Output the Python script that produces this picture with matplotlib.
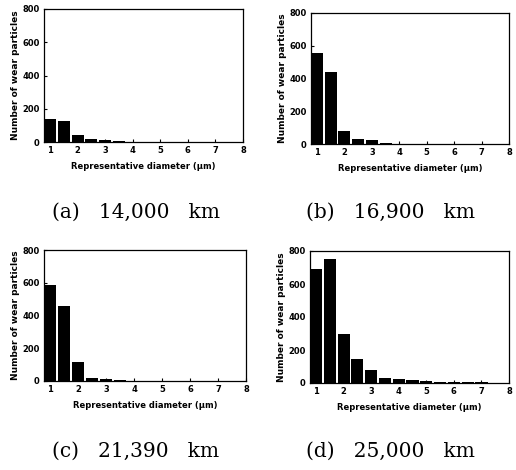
import matplotlib.pyplot as plt

# bar centres (representative diameter, um)
diam = [1.0, 1.5, 2.0, 2.5, 3.0, 3.5, 4.0, 4.5, 5.0, 5.5, 6.0, 6.5, 7.0, 7.5]

count_a = [141, 125, 40, 16, 12, 4, 3, 2, 2, 1, 1, 1, 1, 1]
count_b = [558, 440, 79, 32, 22, 4, 3, 2, 2, 1, 1, 1, 1, 1]
count_c = [588, 457, 114, 20, 14, 4, 3, 2, 2, 2, 2, 1, 1, 1]
count_d = [690, 751, 298, 148, 77, 32, 22, 18, 14, 8, 8, 6, 4, 3]

captions = ["(a)   14,000   km", "(b)   16,900   km", "(c)   21,390   km", "(d)   25,000   km"]

# axes boxes in pixels: left, top, right, bottom
boxes = [(44, 9, 243, 142), (311, 13, 509, 144), (44, 250, 246, 381), (310, 251, 509, 383)]
caption_pos = [(136, 212), (391, 212), (136, 451), (390, 451)]

W, H = 516, 470


def main():
    fig = plt.figure(figsize=(W / 100, H / 100), dpi=100)
    for counts, box, cap, cpos in zip([count_a, count_b, count_c, count_d], boxes, captions, caption_pos):
        l, t, r, b = box
        ax = fig.add_axes([l / W, 1 - b / H, (r - l) / W, (b - t) / H])
        ax.bar(diam, counts, width=0.44, color="black")
        ax.set_xlim(0.78, 8.0)
        ax.set_ylim(0, 800)
        ax.set_xticks(range(1, 9))
        ax.set_yticks([0, 200, 400, 600, 800])
        ax.tick_params(direction="in", length=2, width=0.8, labelsize=6, pad=3)
        for lab in ax.get_xticklabels() + ax.get_yticklabels():
            lab.set_fontweight("bold")
        ax.set_xlabel("Representative diameter (\u03bcm)", fontsize=6, fontweight="bold", labelpad=5)
        ax.set_ylabel("Number of wear particles", fontsize=6.5, fontweight="bold", labelpad=2)
        for s in ax.spines.values():
            s.set_linewidth(0.9)
        fig.text(cpos[0] / W, 1 - cpos[1] / H, cap, ha="center", va="center",
                 fontsize=14.5, family="DejaVu Serif")
    fig.savefig("out.png", dpi=100)


if __name__ == "__main__":
    main()
